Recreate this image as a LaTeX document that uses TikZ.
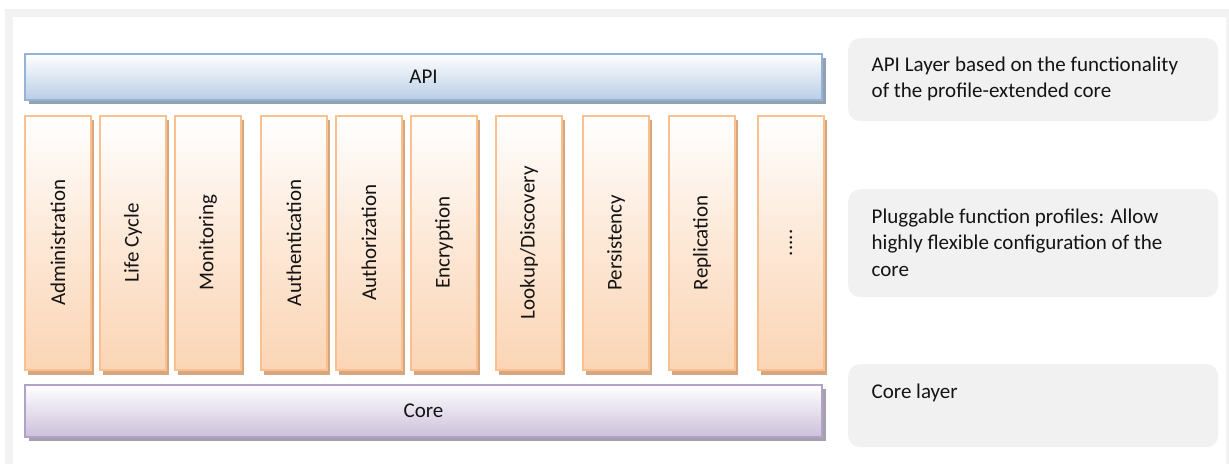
\documentclass[tikz,border=0pt]{standalone}
\usepackage{fontspec}
\setmainfont{Carlito}
\usetikzlibrary{shadows}

\definecolor{framegray}{RGB}{242,242,242}
\definecolor{notegray}{RGB}{241,241,241}
\definecolor{apiline}{RGB}{149,179,215}
\definecolor{apifill}{RGB}{185,205,229}
\definecolor{apishadow}{RGB}{146,160,176}
\definecolor{orline}{RGB}{250,192,144}
\definecolor{orfill}{RGB}{251,213,181}
\definecolor{orshadow}{RGB}{214,166,126}
\definecolor{coreline}{RGB}{179,162,199}
\definecolor{corefill}{RGB}{204,192,218}
\definecolor{coreshadow}{RGB}{165,159,176}
\definecolor{txt}{RGB}{20,20,20}

\newcommand\moreprofiles{.....}

\tikzset{
  lbl/.style={font=\fontsize{21}{26.3}\selectfont, text=txt, inner sep=0pt},
  layerbar/.style={lbl, line width=2pt, minimum width=797pt},
  apibar/.style={layerbar, draw=apiline, top color=white, bottom color=apifill,
    minimum height=46pt,
    general shadow={fill=apishadow, shadow xshift=3.5pt, shadow yshift=-4pt}},
  corebar/.style={layerbar, draw=coreline, top color=white, bottom color=corefill,
    minimum height=52pt,
    general shadow={fill=coreshadow, shadow xshift=3.5pt, shadow yshift=-4pt}},
  profilebox/.style={line width=2pt, draw=orline, top color=white,
    bottom color=orfill, middle color=orfill!55!white,
    minimum width=66pt, minimum height=254.5pt, inner sep=0pt,
    general shadow={fill=orshadow, shadow xshift=3pt, shadow yshift=-4.5pt}},
  note/.style={fill=notegray, rounded corners=12pt, anchor=north west,
    minimum width=370pt, inner sep=0pt},
  % anchored at the baseline of the last line
  notetext/.style={lbl, anchor=base west, align=left},
}

\begin{document}
\begin{tikzpicture}[x=1pt, y=-1pt]
\useasboundingbox (0,0) rectangle (1229,464);

% frame
\fill[framegray] (5,9) rectangle (1229,464);
\fill[white] (13,17) rectangle (1226,464);

% layers
\node[apibar] (api) at (423.5,77) {API};
\node[corebar] (core) at (423.5,411) {Core};

% pluggable function profiles
\foreach \x/\n/\t in {24/1/Administration, 99/2/Life Cycle, 174/3/Monitoring,
    260/4/Authentication, 335/5/Authorization, 410/6/Encryption,
    495/7/Lookup\slash Discovery, 582/8/Persistency, 668/9/Replication,
    757/10/\moreprofiles}{
  \node[profilebox] (p\n) at (\x+34,242.75) {};
  \node[lbl, rotate=90] at (p\n) {\t};
}

% explanatory notes
\node[note, minimum height=83pt] (n1) at (848,38) {};
\node[note, minimum height=108pt] (n2) at (848,189) {};
\node[note, minimum height=83pt] (n3) at (848,364) {};

\node[notetext] at (871.5,97.6) {API Layer based on the functionality\\of the profile-extended core};
\node[notetext] at (871.5,276.2) {Pluggable function profiles: Allow\\highly flexible configuration of the\\core};
\node[notetext] at (871.5,398) {Core layer};
\end{tikzpicture}
\end{document}
